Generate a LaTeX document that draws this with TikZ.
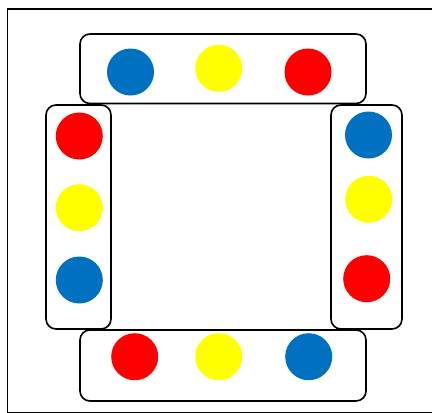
\documentclass[tikz,border=0pt]{standalone}
\definecolor{cblue}{HTML}{0070C0}
\definecolor{cyellow}{HTML}{FFFF00}
\definecolor{cred}{HTML}{FF0000}
\tikzset{
  panel/.style={draw=black, line width=1.6pt, rounded corners=10pt, fill=none},
  dot/.style={circle, inner sep=0pt, minimum size=47pt, draw=none},
  bdot/.style={dot, fill=cblue},
  ydot/.style={dot, fill=cyellow},
  rdot/.style={dot, fill=cred}
}
\begin{document}
\begin{tikzpicture}[x=1pt,y=-1pt]
\useasboundingbox (0,0) rectangle (432,413);
\fill[white] (0,0) rectangle (432,413);
\draw[line width=1.5pt] (7.5,9) rectangle (445,412.5);
% panels
\draw[panel] (80,34) rectangle (366,103.5);
\draw[panel] (46,105) rectangle (111,329);
\draw[panel] (331,105) rectangle (402,329);
\draw[panel] (80,330) rectangle (366,401);
% top
\node[bdot] (t1) at (130.5,72) {};
\node[ydot] (t2) at (218.7,68.3) {};
\node[rdot] (t3) at (308,72) {};
% left
\node[rdot] (l1) at (79.3,136) {};
\node[ydot] (l2) at (79.3,207.7) {};
\node[bdot] (l3) at (79.3,280) {};
% right
\node[bdot] (r1) at (368.5,135) {};
\node[ydot] (r2) at (368.7,199.3) {};
\node[rdot] (r3) at (366.7,278.7) {};
% bottom
\node[rdot] (b1) at (134.7,356.7) {};
\node[ydot] (b2) at (218.7,356.7) {};
\node[bdot] (b3) at (308.7,356.7) {};
\end{tikzpicture}
\end{document}
